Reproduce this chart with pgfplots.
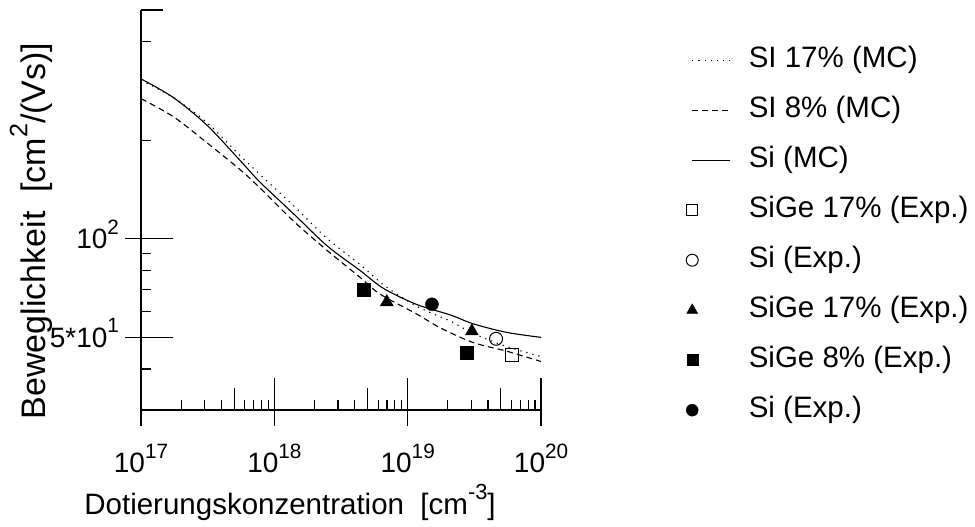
\documentclass[border=0pt]{standalone}
\usepackage{fontspec}
\setmainfont{Liberation Sans}
\usepackage{pgfplots}
\pgfplotsset{compat=1.18}
\newcommand{\sx}[1]{\raisebox{0.52em}{\scalebox{0.74}{#1}}}
\pgfplotsset{
  lineleg/.style={legend image code/.code={\path[draw=none,fill=none] (-6pt,-6pt) rectangle (38pt,6pt); \draw[##1] (0pt,0pt) -- (38pt,0pt);}},
  markleg/.style={legend image code/.code={\path[draw=none,fill=none] (-6pt,-6pt) rectangle (38pt,6pt); \draw[##1, mark size=#1] plot coordinates {(0pt,0pt)};}},
}
\begin{document}
\begin{tikzpicture}
\useasboundingbox (-141pt,-117pt) rectangle (834pt,410pt);
\begin{axis}[
  at={(0pt,0pt)}, anchor=south west,
  scale only axis, width=400pt, height=400pt,
  xmode=log, ymode=log,
  xmin=1e17, xmax=1e20, ymin=30, ymax=500,
  axis x line*=bottom, axis y line*=left,
  axis line style={-, line width=1.2pt},
  every tick/.style={black, line width=1.2pt},
  tick align=inside,
  major tick length=22pt, minor tick length=10pt,
  xtick={5e17,5e18,5e19}, xticklabels={,,},
  minor xtick={2e17,3e17,4e17,6e17,7e17,8e17,9e17,2e18,3e18,4e18,6e18,7e18,8e18,9e18,2e19,3e19,4e19,6e19,7e19,8e19,9e19},
  extra x ticks={1e17,1e18,1e19,1e20},
  extra x tick labels={10\sx{17},10\sx{18},10\sx{19},10\sx{20}},
  extra x tick style={major tick length=48pt, tick align=center, every major tick/.append style={yshift=8pt}},
  ytick={500}, yticklabels={},
  minor ytick={40,60,70,80,90,200,400},
  extra y ticks={50,100},
  extra y tick labels={5*10\sx{1},10\sx{2}},
  extra y tick style={major tick length=48pt, tick align=center, every major tick/.append style={xshift=8pt}},
  tick label style={font=\fontsize{28}{32}\selectfont},
  xticklabel style={anchor=base, inner sep=0pt, yshift=-39pt},
  yticklabel style={anchor=base east, inner sep=0pt, xshift=2pt, yshift=-10pt},
  xlabel={Dotierungskonzentration\ \ [cm\sx{-3}]},
  xlabel style={font=\fontsize{29.5}{32}\selectfont, at={(axis description cs:0.3725,-0.2625)}, anchor=base},
  ylabel={Beweglichkeit\ \ [cm\sx{2}/(Vs)]},
  ylabel style={font=\fontsize{34}{38}\selectfont, at={(axis description cs:-0.24,0.4475)}, anchor=base},
  legend cell align=left,
  legend style={draw=none, fill=none, inner sep=0pt, at={(axis description cs:1.3625,0.91)}, anchor=north west,
    font=\fontsize{29.5}{34}\selectfont, row sep=22pt,
    nodes={inner sep=0pt, text height=21pt, text depth=7pt},
    /tikz/every odd column/.append style={column sep=18pt}},
]
\addplot[black, line width=1.1pt, dash pattern=on 1.2pt off 5pt, smooth, tension=0.5, lineleg] coordinates {
 (1e17,305) (1.75e17,270) (3.1e17,227) (5.5e17,180) (8.3e17,153.5) (1.4e18,126) (2.5e18,100)
 (4.4e18,83.5) (6.6e18,72.3) (1.17e19,62.2) (2.1e19,56) (3.1e19,51.4) (5.5e19,46.9) (1e20,43.7)};
\addlegendentry{SI 17\% (MC)}
\addplot[black, line width=1.1pt, dash pattern=on 6pt off 4pt, smooth, tension=0.5, lineleg] coordinates {
 (1e17,268) (1.75e17,236) (3.1e17,197) (5.5e17,163) (7.8e17,143) (1.4e18,113) (2.5e18,92)
 (4.4e18,76.2) (6.2e18,67.8) (1.17e19,58.9) (1.75e19,53.5) (3.1e19,48.2) (5.5e19,45.4) (1e20,42.2)};
\addlegendentry{SI 8\% (MC)}
\addplot[black, line width=1.1pt, smooth, tension=0.5, lineleg] coordinates {
 (1e17,308) (1.75e17,270) (3.1e17,223) (5.5e17,174) (7.8e17,149) (1.4e18,119) (2.5e18,95)
 (4.4e18,80) (6.6e18,70.5) (1.17e19,63) (2.1e19,58.5) (3.1e19,55) (5.5e19,51.8) (1e20,50)};
\addlegendentry{Si (MC)}
\addplot[only marks, mark=square, mark size=6.5pt, mark options={fill=white, line width=1pt}, black, markleg=5.5pt] coordinates {(6.1e19,44.1)};
\addlegendentry{SiGe 17\% (Exp.)}
\addplot[only marks, mark=o, mark size=6.5pt, mark options={fill=white, line width=1pt}, black, markleg=6pt] coordinates {(4.6e19,49.5)};
\addlegendentry{Si (Exp.)}
\addplot[only marks, mark=triangle*, mark size=7.5pt, black, markleg=6.3pt] coordinates {(6.97e18,64.1) (3.03e19,52.2)};
\addlegendentry{SiGe 17\% (Exp.)}
\addplot[only marks, mark=square*, mark size=6.5pt, black, markleg=5.5pt] coordinates {(4.66e18,69.8) (2.77e19,44.9)};
\addlegendentry{SiGe 8\% (Exp.)}
\addplot[only marks, mark=*, mark size=6.5pt, black, markleg=6pt] coordinates {(1.52e19,63.1)};
\addlegendentry{Si (Exp.)}
\end{axis}
\end{tikzpicture}
\end{document}
